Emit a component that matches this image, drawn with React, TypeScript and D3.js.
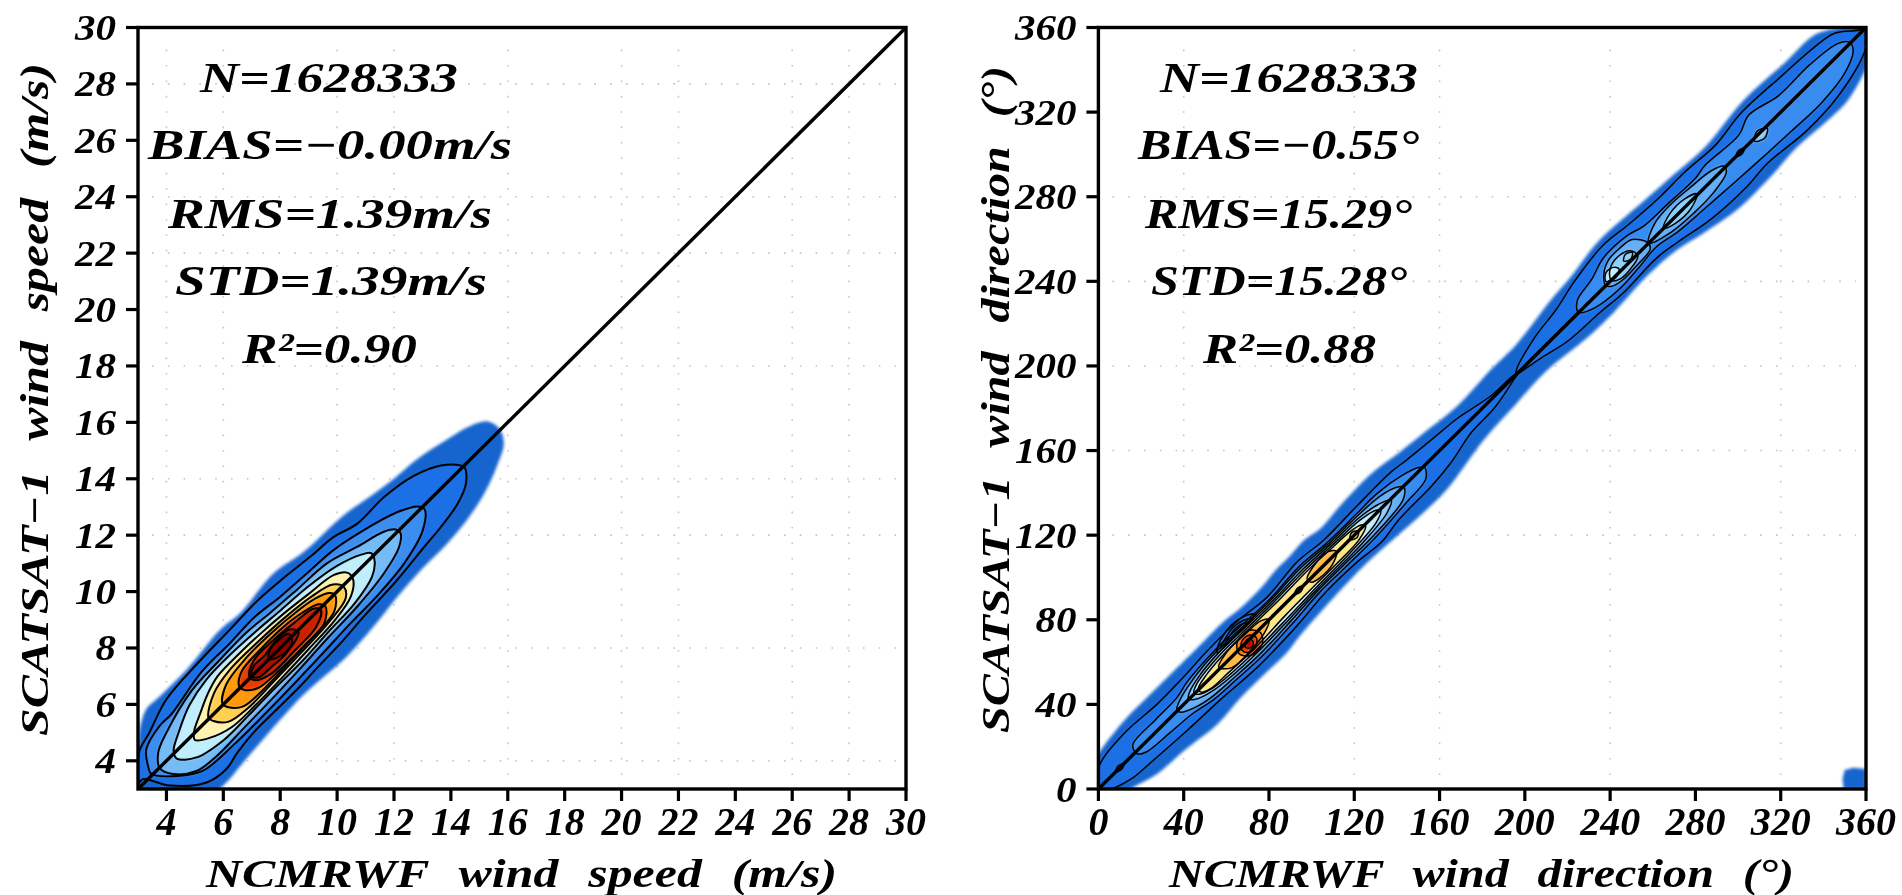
import React from "react";
import * as d3 from "d3";

type Pt = [number, number];

// ---------- tick labels and grid positions ----------
const speedXTicks = [4, 6, 8, 10, 12, 14, 16, 18, 20, 22, 24, 26, 28, 30];
const speedYTicks = [4, 6, 8, 10, 12, 14, 16, 18, 20, 22, 24, 26, 28, 30];
const speedGridX = [4, 6, 10, 12, 16, 20, 22, 26, 28];
const speedGridY = [4, 8, 12, 14, 18, 22, 24, 28];
const dirXTicks = [0, 40, 80, 120, 160, 200, 240, 280, 320, 360];
const dirYTicks = [0, 40, 80, 120, 160, 200, 240, 280, 320, 360];
const dirGridX = [40, 120, 160, 240, 320];
const dirGridY = [120, 160, 200, 240, 280];

const speedStats = ["N=1628333", "BIAS=\u22120.00m/s", "RMS=1.39m/s", "STD=1.39m/s", "R\u00B2=0.90"];
const dirStats = ["N=1628333", "BIAS=\u22120.55\u00B0", "RMS=15.29\u00B0", "STD=15.28\u00B0", "R\u00B2=0.88"];

// ---------- contour outlines: each point is [along the 1:1 line, half-difference (y-x)/2] ----------
const speedEdge: Pt[] = [[2.5,0],[2.8,.4],[3.76,.76],[4.09,1.03],[4.56,1.27],[5.03,1.26],[5.97,1.26],[7.26,1.38],[7.91,1.32],[9.2,1.44],[10.12,1.29],[11.47,1.24],[12.18,1.12],[13,1],[13.76,.94],[14.65,.76],[15.29,.59],[15.66,.37],[15.74,.03],[15.55,-.31],[15.09,-.56],[14.32,-.85],[13.44,-1.03],[12.68,-1.09],[11.85,-1.09],[10.97,-1.15],[10.03,-1.26],[9.03,-1.32],[7.56,-1.24],[6.09,-1.32],[5.32,-1.38],[4.56,-1.44],[3.6,-1.3],[2.8,-.8]];
const speedC1: Pt[] = [[3.1,.1],[3.66,.63],[4.2,.8],[5.09,1.09],[6.26,1.18],[7.44,1.21],[8.44,1.24],[9.32,1.18],[10.15,1.09],[10.9,1.03],[11.56,.85],[12.5,.85],[13.41,.7],[14.06,.41],[14.41,.06],[14.44,-.05],[14.18,-.35],[13.68,-.56],[12.97,-.68],[12.32,-.74],[11.26,-.85],[10.03,-.91],[9.26,-.97],[8.32,-1],[7.68,-1.03],[6.97,-1.03],[6.03,-1.03],[5.4,-1.1],[4.91,-1.2],[4.32,-1.09],[3.62,-.5],[3.26,.09]];
const speedC2: Pt[] = [[3.5,.03],[3.59,.24],[3.85,.56],[4.5,.74],[4.91,.74],[6.2,.96],[7.2,.97],[8.09,1],[8.91,.91],[9.91,.85],[10.68,.8],[11.56,.62],[12.47,.35],[12.92,.1],[13,-.07],[12.59,-.42],[11.68,-.68],[10.62,-.78],[9.62,-.8],[8.74,-.84],[7.62,-.88],[6.62,-.9],[5.5,-.9],[4.47,-.82],[3.97,-.5]];
const speedC3: Pt[] = [[3.75,-.02],[4,.29],[4.5,.5],[5.68,.8],[6.68,.85],[7.68,.87],[8.44,.8],[9.32,.74],[10.32,.68],[11.15,.44],[11.88,.24],[12.13,.07],[12.15,-.08],[11.88,-.3],[11.15,-.5],[10.09,-.62],[9.03,-.66],[7.91,-.72],[6.91,-.76],[5.94,-.78],[4.97,-.8],[4.35,-.71],[3.88,-.35]];
const speedC4: Pt[] = [[4.3,.05],[4.74,.3],[5.38,.58],[6.15,.74],[7.09,.76],[7.91,.72],[8.68,.66],[9.56,.6],[10.44,.46],[11.06,.24],[11.28,.08],[11.2,-.12],[10.88,-.35],[10.09,-.52],[9.15,-.56],[8.15,-.62],[7.21,-.62],[6.24,-.64],[5.38,-.64],[4.59,-.47],[4.22,-.14]];
const speedC5: Pt[] = [[5,.03],[5.44,.25],[5.91,.46],[6.4,.6],[7.2,.62],[7.9,.6],[8.65,.55],[9.44,.46],[10.24,.35],[10.51,.16],[10.5,-.06],[10.15,-.33],[9.44,-.47],[8.5,-.52],[7.5,-.56],[6.53,-.58],[5.74,-.55],[5.18,-.36],[4.87,-.13]];
const speedC6: Pt[] = [[5.5,.02],[6.03,.36],[6.74,.5],[7.71,.5],[8.59,.46],[9.47,.36],[10.05,.2],[10.2,-.04],[10.03,-.27],[9.29,-.4],[8.32,-.45],[7.35,-.48],[6.38,-.5],[5.79,-.4],[5.53,-.12]];
const speedC7: Pt[] = [[6,.03],[6.4,.3],[7.2,.42],[8.1,.42],[8.9,.36],[9.5,.26],[9.85,.1],[9.9,-.03],[9.6,-.3],[8.8,-.38],[7.8,-.42],[6.9,-.44],[6.3,-.38],[6.03,-.12]];
const speedC8: Pt[] = [[6.6,.04],[6.9,.26],[7.6,.32],[8.4,.32],[9,.24],[9.45,.1],[9.53,-.06],[9.2,-.34],[8.4,-.38],[7.6,-.38],[6.9,-.32],[6.62,-.1]];
const speedC9: Pt[] = [[6.95,.03],[7.3,.24],[8,.26],[8.7,.2],[9.3,.1],[9.38,-.05],[9,-.26],[8.2,-.3],[7.4,-.3],[7,-.14]];
const speedC10: Pt[] = [[7,0],[7.2,.14],[7.6,.14],[8,.2],[8.5,.16],[8.6,-.04],[8,-.2],[7.5,-.18],[7.1,-.14]];
const speedC11: Pt[] = [[7.6,0],[7.8,.15],[8.1,.17],[8.4,.1],[8.3,-.12],[7.9,-.15]];

const dirEdge: Pt[] = [[-8,4],[0,6],[5,8],[9.4,8.6],[14.9,9.4],[23.5,10.2],[33,10.2],[42.4,10.2],[50.2,10.2],[59.7,10.2],[69,10.2],[76,9.4],[85.7,9.4],[93.6,10.2],[100,10.2],[107,10.6],[113.7,9.5],[124,10.3],[139,10.5],[150,9],[160.4,7.9],[174.6,6.4],[191.9,7.1],[203.2,7.1],[221.8,9.5],[232,10.3],[246.5,12.2],[267,11.1],[280.3,10.3],[294.4,9.5],[314.1,11.5],[332.6,10.7],[346.3,10.3],[353.3,6.4],[358.8,2],[364,4],[368,0],[364,-4],[353.4,-8.6],[338.8,-12.9],[327.8,-12.9],[315.8,-12.1],[302.6,-12.9],[287.5,-12.9],[273.4,-10.5],[262.9,-8.2],[250.1,-7.4],[233.6,-8.2],[222,-8],[203,-6.2],[188.1,-7],[173.2,-7.8],[152.5,-10.9],[142,-10.9],[127.7,-10.1],[116,-9.5],[99,-10],[84,-11],[76,-12],[65.9,-11.8],[54.9,-11.8],[43.2,-12.6],[29,-11],[17.3,-10.2],[8.6,-7.8],[0,-6],[-8,-4]];
const dirA1: Pt[] = [[-3,0],[1,3],[7.5,5.9],[20.4,7.1],[33.7,6.3],[46,6.5],[58,7.1],[72.2,7.1],[84.8,5.8],[100.5,7.1],[111.5,6],[128,6.3],[143.6,6.3],[150,5.5],[159,4.6],[172,3.4],[177,2.4],[185,.9],[195.5,.4],[196.5,-.1],[194,-.7],[183,-2.8],[171.7,-3.2],[160,-5.5],[150,-6.5],[134,-6.8],[125,-8],[114,-7],[100,-6.8],[85,-8],[66,-8.5],[50,-7.5],[35,-7],[18,-6],[11,-5.5],[4,-3.5]];
const dirA2: Pt[] = [[17.3,.3],[18.7,2.5],[30,3],[40,3.2],[46,4.5],[55,5.3],[65,5.5],[75,5],[85,4.7],[100,5.5],[112,4.6],[125,4.5],[135,4.5],[145,3],[151,1],[152.5,-.5],[150,-3.5],[140,-4.5],[125,-5.5],[110,-5.5],[98,-5.4],[85,-6.4],[70,-7],[58,-6.5],[48,-5.9],[40,-4.3],[30,-3.5],[20,-2.5],[17.5,-1]];
const dirA3: Pt[] = [[37,.2],[39,1.5],[45,3.2],[55,4.6],[65,4.8],[75,4.4],[85,4.2],[100,4.8],[112,4],[125,3.8],[135,3.2],[141,1.5],[143,-.3],[140,-3],[125,-4.6],[110,-4.6],[98,-4.6],[85,-5.4],[70,-6],[58,-5.5],[48,-4.8],[42,-3.4],[37.5,-1.2]];
const dirA4: Pt[] = [[42.4,.2],[44,1.4],[50,3],[60,4],[70,3.9],[85,3.6],[100,4],[112,3.4],[125,3],[133,1.6],[137,-.3],[133,-2.4],[120,-3.8],[100,-4],[85,-4.6],[70,-5],[58,-4.6],[50,-3.6],[44,-1.6]];
const dirA5: Pt[] = [[45,.2],[48,1.8],[60,3.2],[70,3.2],[85,3],[100,3.3],[112,2.8],[125,2.2],[131,.8],[132,-.4],[128,-2.2],[115,-3.2],[100,-3.4],[85,-3.9],[70,-4.2],[58,-3.8],[50,-2.8],[46,-1.2]];
const dirA6: Pt[] = [[47,.2],[52,1.6],[60,2.4],[70,2.6],[85,2.3],[100,2.6],[112,2.2],[120,1.8],[124,.8],[124.8,-.5],[120,-2.2],[110,-2.6],[100,-2.6],[85,-2.8],[70,-3.4],[58,-3],[50,-2.6],[47,-1.2]];
const dirA7a: Pt[] = [[57,.5],[62,2.2],[70,2.2],[78,1.6],[80,0],[76,-2],[68,-3],[60,-2.6]];
const dirA7b: Pt[] = [[98.5,.6],[103,2.2],[110,2.2],[112,.4],[108,-1.8],[102,-2],[99,-1.2]];
const dirA8: Pt[] = [[65,-1],[67,2],[70,2.5],[73,2],[75,-1],[73,-4],[70,-4.6],[67,-4]];
const dirA9: Pt[] = [[66.5,-1],[68,1],[70,1.5],[72,.8],[72.8,-1.2],[71,-3],[69,-3.4],[67.3,-2.8]];
const dirA10: Pt[] = [[68,-1],[69,.2],[70.5,.3],[71.2,-1],[70.5,-2.2],[69,-2.3]];
const dirB1: Pt[] = [[196,.1],[197,1],[209,4.4],[220.7,6],[231.3,8.3],[246.5,10.2],[257.9,9.1],[270.5,8.3],[283.6,8.3],[296.9,7.5],[310.5,9.1],[329.3,8.3],[342.9,7.5],[351.3,6],[358.4,.5],[361,-.5],[354,-5.4],[337.2,-9.7],[322,-10.5],[304.7,-9],[294.4,-9.7],[278.5,-9],[265.2,-6.6],[256.5,-5.4],[240.3,-5.8],[230.5,-5],[216,-4.2],[205.5,-1.9],[197,-.3]];
const dirB2: Pt[] = [[225.2,.1],[227.8,3.2],[236.2,4.8],[243.9,7.1],[254.9,6.8],[260.9,5.2],[271.8,4.8],[284.5,4.4],[289.7,5.2],[304.7,4.4],[311.8,6.8],[323.4,4.4],[337.9,4.4],[349.7,2.8],[352.6,.5],[351.7,-2.3],[344.3,-5.8],[331.7,-7.4],[317.7,-7],[307.5,-6.6],[292.4,-5.8],[279.8,-5],[267.8,-4.2],[258.7,-2.7],[250,-3.5],[240,-4],[230.3,-2.7]];
const dirB3: Pt[] = [[238,0],[240,3],[244.5,5.4],[250,5.6],[255,4.8],[258,.3],[257,-1.8],[250,-2.5],[243,-2.6],[239,-1.4]];
const dirB4: Pt[] = [[240.5,0],[243,3],[248,4],[252,2.5],[252.5,-.5],[248,-1.8],[243,-1.8]];
const dirB5: Pt[] = [[239,1],[241,3],[244,2.6],[245,.8],[242,-.4]];
const dirB6: Pt[] = [[258,0],[264,3.2],[272,4],[281,3.4],[290,2.4],[293.9,.5],[293,-1.5],[285,-3.3],[276,-3.5],[266,-2.7]];
const dirB7: Pt[] = [[265,0],[270,2],[277,2],[281,.3],[276,-1.8],[269,-1.6]];
const dirB8: Pt[] = [[307,-.7],[310,1],[313,-.7],[310,-2.4]];
const dirB9: Pt[] = [[248,1.6],[250,2.8],[252,1.6],[250,.4]];
const dirKnot1: Pt[] = [[60,4.4],[64,6.6],[70,7.6],[75,6.6],[78,4.6],[70,4]];
const dirKnot2: Pt[] = [[62,4.6],[66,6],[70,6.6],[74,5.8],[76,4.4],[70,4.2]];
const dirKnot3: Pt[] = [[64,4.4],[67,5.4],[70,5.8],[73,5.2],[74,4.2],[70,4]];
const dirBlip1: Pt[] = [[8,0],[10,.8],[12,0],[10,-.8]];
const dirBlip2: Pt[] = [[92,0],[94,.8],[96,0],[94,-.8]];
const dirBlip3: Pt[] = [[299,0],[301,.8],[303,0],[301,-.8]];
const dirBlip4: Pt[] = [[118,0],[120,1.2],[122,0],[120,-1.2]];

const wrapPatchX = [349.5, 349, 350, 354, 360, 360];
const wrapPatchY = [0, 5, 9, 10, 9.5, 0];

const bandColors = ["#1e70e6", "#3a8ef0", "#74bcf7", "#c0eefc", "#fff2b0", "#ffd050", "#ff9a10", "#e83a00", "#c82000", "#a81000", "#8c0000"];
const speedBands = [speedC1, speedC2, speedC3, speedC4, speedC5, speedC6, speedC7, speedC8, speedC9, speedC10, speedC11];

const dirBandList: [Pt[], string][] = [
  [dirA1, "#1e70e6"], [dirB1, "#1e70e6"], [dirA2, "#388cf0"], [dirB2, "#388cf0"],
  [dirA3, "#66b0f6"], [dirB3, "#66b0f6"], [dirB6, "#66b0f6"], [dirA4, "#8fd0f8"], [dirB4, "#8fd0f8"], [dirB7, "#8fd0f8"],
  [dirB9, "#8fd0f8"], [dirB8, "#8fd0f8"],
  [dirA5, "#c4f0fc"], [dirB5, "#c4f0fc"], [dirA6, "#ffe680"], [dirA7a, "#ffb840"], [dirA7b, "#ffb840"],
  [dirA8, "#ff7a10"], [dirA9, "#e83a00"], [dirA10, "#b01000"],
];
const dirLoops = [dirKnot1, dirKnot2, dirKnot3, dirBlip1, dirBlip2, dirBlip3, dirBlip4];

const FONT = "'Liberation Serif', 'Times New Roman', serif";

type PanelProps = {
  id: string;
  xRange: [number, number];
  yRange: [number, number];
  domain: [number, number];
  xTicks: number[];
  yTicks: number[];
  gridX: number[];
  gridY: number[];
  xTitle: string;
  yTitle: string;
  xTitleSpan: [number, number];
  yTitleSpan: [number, number];
  yTitleX: number;
  stats: string[];
  statSpans: [number, number][];
  edge: Pt[];
  bands: [Pt[], string][];
  loops: Pt[][];
  contourWidth: number;
  patch?: boolean;
};

const statBaselines = [92, 159, 228, 295, 363];

function Panel(p: PanelProps) {
  const x = d3.scaleLinear().domain(p.domain).range(p.xRange);
  const y = d3.scaleLinear().domain(p.domain).range(p.yRange);
  const outline = d3.line<Pt>()
    .x((d) => x(d[0] - d[1]))
    .y((d) => y(d[0] + d[1]))
    .curve(d3.curveCatmullRomClosed.alpha(0.5));
  const patch = d3.line<number>()
    .x((d) => x(d))
    .y((_, i) => y(wrapPatchY[i]))
    .curve(d3.curveLinearClosed);
  const [x0, x1] = p.xRange;
  const [yb, yt] = p.yRange;
  const inset = 14;
  return (
    <g>
      <clipPath id={p.id + "clip"}>
        <rect x={x0} y={yt} width={x1 - x0} height={yb - yt} />
      </clipPath>
      {p.gridX.map((v) => (
        <line key={"gx" + v} x1={x(v)} x2={x(v)} y1={yb - inset} y2={yt + inset} stroke="#c4c4c4" strokeWidth={1.6} strokeDasharray="1.6 13.8" />
      ))}
      {p.gridY.map((v) => (
        <line key={"gy" + v} x1={x0 + inset} x2={x1 - 10} y1={y(v)} y2={y(v)} stroke="#c4c4c4" strokeWidth={1.6} strokeDasharray="1.6 14.2" />
      ))}
      <g clipPath={`url(#${p.id}clip)`}>
        <g filter="url(#soft)">
          <path d={outline(p.edge) ?? ""} fill="#1565cf" />
          {p.patch && <path d={patch(wrapPatchX) ?? ""} fill="#1565cf" />}
          {p.bands.map(([pts, c], i) => (
            <path key={i} d={outline(pts) ?? ""} fill={c} />
          ))}
        </g>
        <g filter="url(#crisp)" fill="none" stroke="#000" strokeWidth={p.contourWidth} strokeLinejoin="round">
          {p.bands.map(([pts], i) => (
            <path key={i} d={outline(pts) ?? ""} />
          ))}
          {p.loops.map((pts, i) => (
            <path key={i} d={outline(pts) ?? ""} />
          ))}
        </g>
        <line x1={x(p.domain[0])} y1={y(p.domain[0])} x2={x(p.domain[1])} y2={y(p.domain[1])} stroke="#000" strokeWidth={3.4} filter="url(#crisp)" />
      </g>
      <g filter="url(#crisp)">
        <rect x={x0} y={yt} width={x1 - x0} height={yb - yt} fill="none" stroke="#000" strokeWidth={3.4} />
        {p.xTicks.map((v) => (
          <line key={"tx" + v} x1={x(v)} x2={x(v)} y1={yb} y2={yb + 12} stroke="#000" strokeWidth={3.2} />
        ))}
        {p.yTicks.map((v) => (
          <line key={"ty" + v} x1={x0 - 12} x2={x0} y1={y(v)} y2={y(v)} stroke="#000" strokeWidth={3.2} />
        ))}
      </g>
      <g filter="url(#crisp)" fontFamily={FONT} fontWeight="bold" fontStyle="italic" fill="#000">
        {p.xTicks.map((v) => (
          <text key={"lx" + v} x={x(v)} y={835} fontSize={41} textAnchor="middle" textLength={String(v).length * 20} lengthAdjust="spacingAndGlyphs">{v}</text>
        ))}
        {p.yTicks.map((v) => (
          <text key={"ly" + v} x={x0 - 22} y={y(v) + 12.5} fontSize={35} textAnchor="end" textLength={String(v).length * 20.5} lengthAdjust="spacingAndGlyphs">{v}</text>
        ))}
        {p.stats.map((s, i) => (
          <text key={s} x={p.statSpans[i][0]} y={statBaselines[i]} fontSize={42} textLength={p.statSpans[i][1] - p.statSpans[i][0]} lengthAdjust="spacingAndGlyphs">{s}</text>
        ))}
        <text x={p.xTitleSpan[0]} y={887} fontSize={40} wordSpacing={14} textLength={p.xTitleSpan[1] - p.xTitleSpan[0]} lengthAdjust="spacingAndGlyphs">{p.xTitle}</text>
        <text transform={`translate(${p.yTitleX},${p.yTitleSpan[0]}) rotate(-90)`} fontSize={40} wordSpacing={14} textLength={p.yTitleSpan[0] - p.yTitleSpan[1]} lengthAdjust="spacingAndGlyphs">{p.yTitle}</text>
      </g>
    </g>
  );
}

export default function App() {
  const speedBandPairs = speedBands.map((b, i) => [b, bandColors[i]] as [Pt[], string]);
  return (
    <svg width={1902} height={895} style={{ position: "absolute", left: 0, top: 0, display: "block", background: "#fff" }}>
      <defs>
        <filter id="soft" x="-5%" y="-5%" width="110%" height="110%">
          <feGaussianBlur stdDeviation="1.4" />
        </filter>
        <filter id="crisp" x="-5%" y="-5%" width="110%" height="110%">
          <feGaussianBlur stdDeviation="0.45" />
        </filter>
      </defs>
      <Panel
        id="speed"
        xRange={[138, 906]}
        yRange={[789, 27.5]}
        domain={[3, 30]}
        xTicks={speedXTicks}
        yTicks={speedYTicks}
        gridX={speedGridX}
        gridY={speedGridY}
        xTitle={"NCMRWF wind speed (m/s)"}
        yTitle={"SCATSAT\u22121 wind speed (m/s)"}
        xTitleSpan={[206, 837]}
        yTitleSpan={[736, 63]}
        yTitleX={48}
        stats={speedStats}
        statSpans={[[200, 458], [148, 512], [168, 492], [175, 487], [242, 417]]}
        edge={speedEdge}
        bands={speedBandPairs}
        loops={[]}
        contourWidth={2}
      />
      <Panel
        id="dir"
        xRange={[1098.4, 1866]}
        yRange={[789, 27.5]}
        domain={[0, 360]}
        xTicks={dirXTicks}
        yTicks={dirYTicks}
        gridX={dirGridX}
        gridY={dirGridY}
        xTitle={"NCMRWF wind direction (\u00B0)"}
        yTitle={"SCATSAT\u22121 wind direction (\u00B0)"}
        xTitleSpan={[1169, 1794]}
        yTitleSpan={[733, 66]}
        yTitleX={1009}
        stats={dirStats}
        statSpans={[[1160, 1418], [1138, 1419], [1145, 1412], [1151, 1407], [1203, 1376]]}
        edge={dirEdge}
        bands={dirBandList}
        loops={dirLoops}
        contourWidth={1.5}
        patch
      />
    </svg>
  );
}
